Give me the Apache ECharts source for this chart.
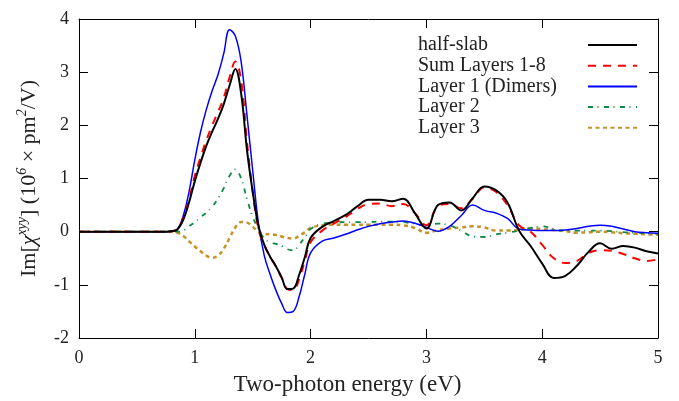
<!DOCTYPE html>
<html>
<head>
<meta charset="utf-8">
<script src="https://cdn.jsdelivr.net/npm/echarts@6/dist/echarts.min.js"></script>
<style>
  html, body { margin: 0; padding: 0; background: #fff; }
  #container { width: 679px; height: 401px; }
</style>
</head>
<body>
<div id="container"></div>
<script>
var dom = document.getElementById("container");
var myChart = echarts.init(dom, null, { renderer: "canvas" });

// two-photon energy (eV), shared sampling for all curves
const energy = [0, 0.4, 0.7, 0.8, 0.85, 0.9, 0.95, 1.0, 1.05, 1.1, 1.15, 1.2, 1.25, 1.3, 1.35, 1.4,
  1.45, 1.5, 1.55, 1.6, 1.65, 1.7, 1.75, 1.8, 1.85, 1.9, 1.95, 2.0, 2.1, 2.2, 2.3, 2.4, 2.5, 2.6,
  2.7, 2.8, 2.9, 3.0, 3.1, 3.2, 3.3, 3.4, 3.5, 3.6, 3.7, 3.8, 3.9, 4.0, 4.1, 4.2, 4.3, 4.4, 4.5,
  4.6, 4.7, 4.8, 4.9, 5.0];

const halfSlab = [0, 0, 0, 0.01, 0.04, 0.22, 0.55, 0.95, 1.3, 1.62, 1.88, 2.12, 2.4, 2.75, 3.06, 2.6,
  1.55, 0.75, 0.1, -0.25, -0.47, -0.65, -0.86, -1.08, -1.07, -0.82, -0.48, -0.12, 0.09, 0.2, 0.31, 0.47, 0.6, 0.6,
  0.57, 0.62, 0.35, 0.06, 0.5, 0.55, 0.4, 0.63, 0.85, 0.78, 0.55, 0.02, -0.27, -0.6, -0.87, -0.83, -0.64, -0.38, -0.22,
  -0.32, -0.27, -0.3, -0.37, -0.41];

const sumLayers = [0, 0, 0, 0.01, 0.05, 0.25, 0.6, 1.05, 1.4, 1.72, 2.0, 2.25, 2.52, 2.9, 3.2, 2.85,
  1.7, 0.75, 0.05, -0.25, -0.47, -0.65, -0.87, -1.08, -1.1, -0.9, -0.55, -0.2, 0.02, 0.15, 0.27, 0.42, 0.52, 0.53,
  0.48, 0.52, 0.35, 0.12, 0.48, 0.52, 0.44, 0.62, 0.83, 0.75, 0.5, 0.12, 0.0, -0.25, -0.5, -0.59, -0.55, -0.4, -0.35,
  -0.36, -0.42, -0.5, -0.55, -0.52];

const layer1 = [0, 0, 0, 0.01, 0.05, 0.3, 0.75, 1.35, 1.88, 2.3, 2.65, 2.95, 3.35, 3.8, 3.68, 3.2,
  2.2, 1.15, 0.15, -0.45, -0.8, -1.1, -1.35, -1.52, -1.5, -1.23, -0.8, -0.4, -0.18, -0.12, -0.05, 0.03, 0.1, 0.15,
  0.18, 0.2, 0.16, 0.08, 0.01, 0.1, 0.3, 0.5, 0.4, 0.35, 0.25, 0.05, 0.03, 0.02, 0.02, 0.03, 0.06, 0.1, 0.12,
  0.1, 0.05, 0.0, -0.02, -0.03];

const layer2 = [0, 0, 0, 0, 0, 0.02, 0.1, 0.18, 0.27, 0.36, 0.47, 0.62, 0.82, 1.05, 1.17, 1.0,
  0.62, 0.28, 0.05, -0.13, -0.2, -0.23, -0.27, -0.33, -0.35, -0.25, -0.1, 0.05, 0.15, 0.17, 0.18, 0.18, 0.18, 0.19,
  0.19, 0.18, 0.15, 0.12, 0.15, 0.12, 0.02, -0.09, -0.1, -0.05, -0.02, 0.02, 0.07, 0.1, 0.05, 0.02, 0.02, 0.02, 0.02,
  0.01, -0.01, -0.02, -0.03, -0.04];

const layer3 = [0, 0, 0, 0, -0.02, -0.08, -0.18, -0.28, -0.37, -0.45, -0.49, -0.45, -0.32, -0.12, 0.08, 0.18,
  0.17, 0.09, 0.0, -0.04, -0.05, -0.06, -0.09, -0.12, -0.13, -0.08, -0.01, 0.07, 0.12, 0.13, 0.13, 0.13, 0.13, 0.13,
  0.13, 0.12, 0.07, -0.02, 0.03, 0.06, 0.08, 0.1, 0.08, 0.02, 0.02, 0.03, 0.06, 0.05, 0.03, 0.01, -0.02, -0.01, 0.0,
  -0.01, -0.03, -0.04, -0.05, -0.06];

const seriesNames = ["half-slab", "Sum Layers 1-8", "Layer 1 (Dimers)", "Layer 2", "Layer 3"];
const seriesValues = [halfSlab, sumLayers, layer1, layer2, layer3];
const seriesColors = ["#000000", "#ff0000", "#0000ff", "#0e8a47", "#c4922b"];
const seriesWidths = [2, 2, 1.5, 1.8, 2.5];
const seriesDashes = ["solid", [8, 7], "solid", [5, 4.5, 1, 5.5], [4, 3.5]];

const FONT = "Liberation Serif";
const INK = "#222";

function pairs(ys) {
  return energy.map(function (x, i) { return [x, ys[i]]; });
}

const axisCommon = {
  axisLine: { show: true, onZero: false, lineStyle: { color: "#000", width: 1 } },
  axisTick: { show: true, inside: true, length: 9, lineStyle: { color: "#000" } },
  splitLine: { show: false },
};

option = {
  animation: false,
  backgroundColor: "#fff",
  textStyle: { fontFamily: FONT },
  grid: { left: 79, right: 21, top: 19, bottom: 63 },
  legend: {
    orient: "vertical",
    left: 418,
    top: 35,
    padding: 0,
    align: "right",
    itemWidth: 49,
    itemHeight: 14,
    itemGap: 0.7,
    data: seriesNames,
    itemStyle: { opacity: 0 },
    formatter: function (name) { return "{n|" + name + "}"; },
    textStyle: {
      fontFamily: FONT,
      fontSize: 20,
      color: INK,
      rich: { n: { width: 165, align: "left", lineHeight: 20, fontFamily: FONT, fontSize: 20, color: INK } },
    },
  },
  xAxis: [
    Object.assign({
      type: "value",
      min: 0,
      max: 5,
      interval: 1,
      position: "bottom",
      name: "Two-photon energy (eV)",
      nameLocation: "middle",
      nameGap: 35,
      nameTextStyle: { fontFamily: FONT, fontSize: 23, color: INK, padding: [0, 42, 0, 0] },
      axisLabel: { margin: 11, fontFamily: FONT, fontSize: 18, color: INK },
    }, axisCommon),
    Object.assign({
      type: "value",
      min: 0,
      max: 5,
      interval: 1,
      position: "top",
      axisLabel: { show: false },
    }, axisCommon),
  ],
  yAxis: [
    Object.assign({
      type: "value",
      min: -2,
      max: 4,
      interval: 1,
      position: "left",
      name: "Im[{i|χ}{sup|xyy}] (10{sup|6} × pm{sup|2}/V)",
      nameLocation: "middle",
      nameRotate: 90,
      nameGap: 36,
      nameTextStyle: {
        fontFamily: FONT,
        fontSize: 22,
        lineHeight: 28,
        color: INK,
        rich: {
          i: { fontFamily: FONT, fontSize: 22, fontStyle: "italic", color: INK, lineHeight: 28 },
          sup: { fontFamily: FONT, fontSize: 14, fontStyle: "italic", color: INK, verticalAlign: "top", lineHeight: 14 },
        },
      },
      axisLabel: { margin: 10, fontFamily: FONT, fontSize: 18, color: INK },
    }, axisCommon),
    Object.assign({
      type: "value",
      min: -2,
      max: 4,
      interval: 1,
      position: "right",
      axisLabel: { show: false },
    }, axisCommon),
  ],
  series: seriesNames.map(function (name, k) {
    return {
      name: name,
      type: "line",
      xAxisIndex: 0,
      yAxisIndex: 0,
      data: pairs(seriesValues[k]),
      smooth: 0.4,
      showSymbol: false,
      symbol: "none",
      color: seriesColors[k],
      lineStyle: { color: seriesColors[k], width: seriesWidths[k], type: seriesDashes[k] },
      z: 10 - k,
    };
  }),
};

myChart.setOption(option);
window.addEventListener("resize", myChart.resize);
</script>
</body>
</html>
